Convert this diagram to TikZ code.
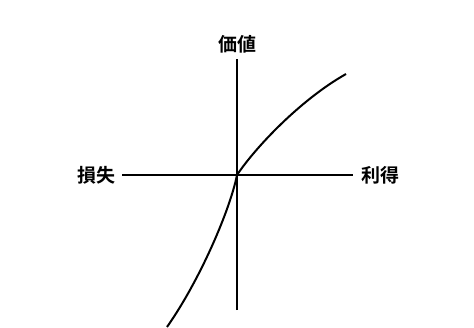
\documentclass[tikz,border=0pt]{standalone}
\usepackage{fontspec}
\newfontfamily\jpfont{Noto Sans CJK JP}[BoldFont={* Bold}]
\usetikzlibrary{positioning}

\begin{document}
\begin{tikzpicture}[
    x=1pt, y=-1pt,
    axislabel/.style={font=\jpfont\bfseries\fontsize{19}{19}\selectfont, inner sep=0pt},
    axisline/.style={line width=2pt},
    curveline/.style={line width=2pt}
  ]
  \useasboundingbox (0,0) rectangle (474,327);
  \coordinate (origin) at (237,175);
  \coordinate (ytop) at (237,59);
  \coordinate (ybottom) at (237,310);
  \coordinate (xleft) at (122,175);
  \coordinate (xright) at (353,175);

  \node[axislabel, above=6pt of ytop] (value) {価値};
  \node[axislabel, left=6pt of xleft] (loss) {損失};
  \node[axislabel, right=8pt of xright] (gain) {利得};

  \draw[axisline] (ybottom) -- (ytop);
  \draw[axisline] (xleft) -- (xright);

  % value curve
  \coordinate (gainend) at (346,74);
  \coordinate (lossend) at (167,327);
  \draw[curveline] (origin) .. controls (255,148) and (300,100) .. (gainend);
  \draw[curveline] (origin) .. controls (230,210) and (200,280) .. (lossend);
\end{tikzpicture}
\end{document}
